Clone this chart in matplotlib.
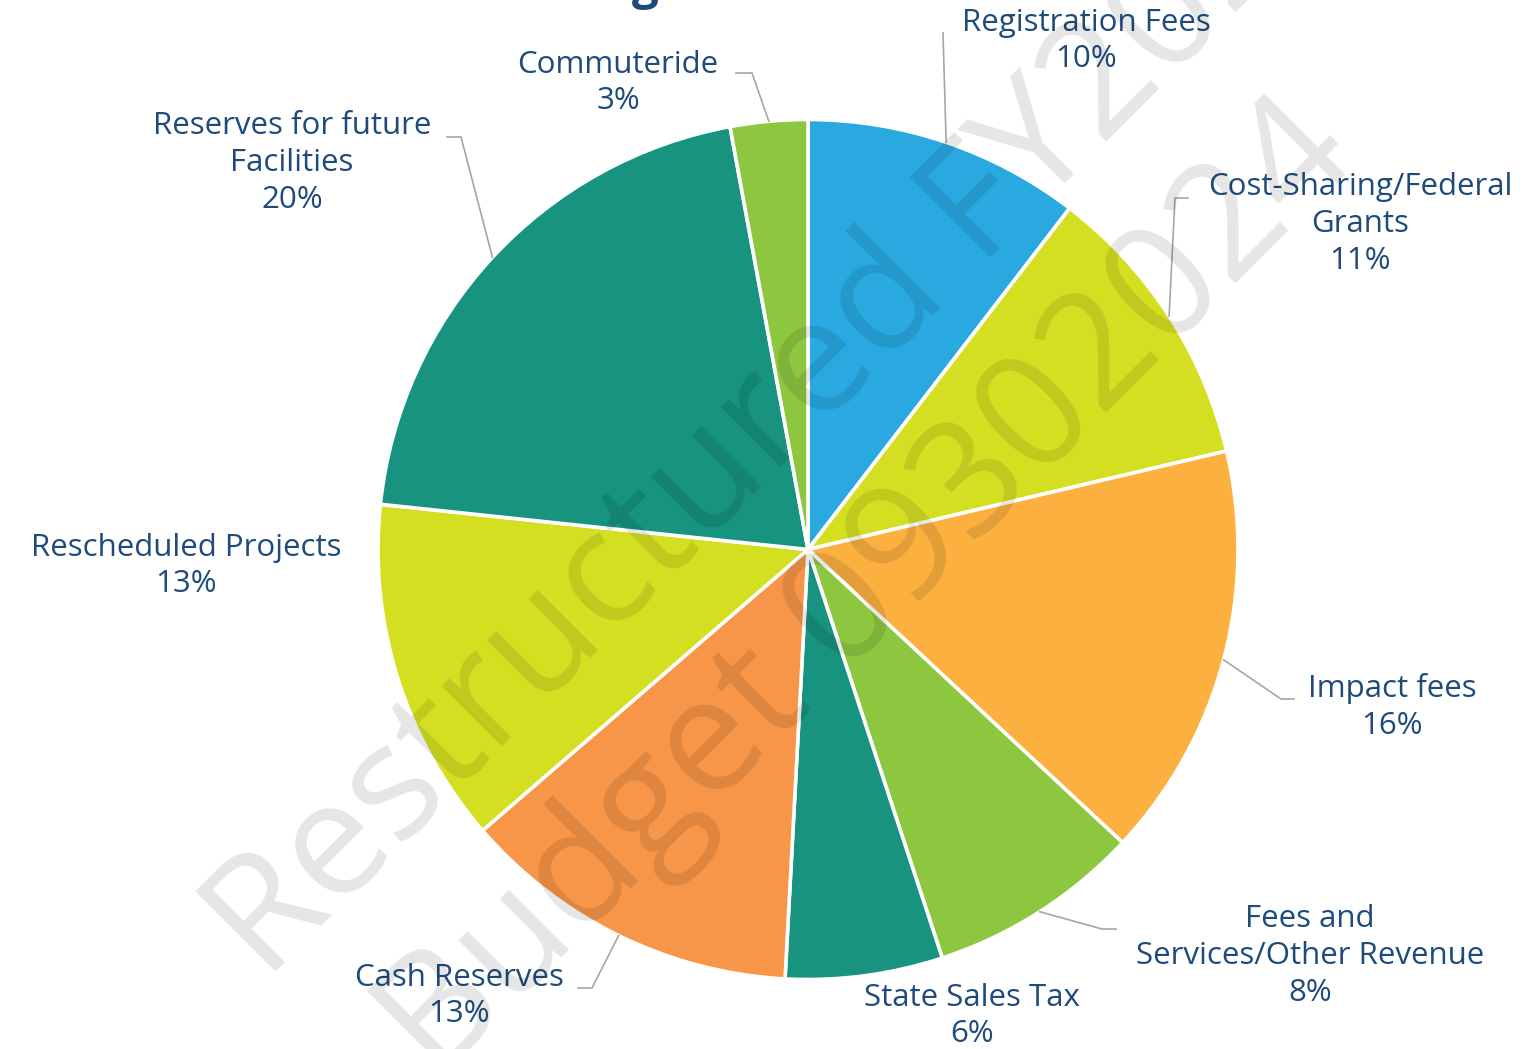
import matplotlib
matplotlib.use("Agg")
import matplotlib.pyplot as plt
import numpy as np

# slice data, clockwise from 12 o'clock
categories = [
    "Registration Fees",
    "Cost-Sharing/Federal\nGrants",
    "Impact fees",
    "Fees and\nServices/Other Revenue",
    "State Sales Tax",
    "Cash Reserves",
    "Rescheduled Projects",
    "Reserves for future\nFacilities",
    "Commuteride",
]
shares = [10.4, 10.9, 15.6, 8.0, 5.9, 12.8, 13.0, 20.4, 2.9]
colors = ["#29a9e0", "#d5df22", "#fbb040", "#8dc63f", "#17937f",
          "#f79548", "#d5df22", "#17937f", "#8dc63f"]

# label layout in pixels: (center x, center y of text block)
label_pos = [(1086, 41), (1360, 224), (1392, 707), (1310, 956), (972, 1016),
             (459, 996), (186, 566), (292, 163), (618, 83)]
# leader lines: (elbow, end) in pixels, None = no leader
leaders = [((943, 33), (943, 33)), ((1175, 198), (1188, 198)),
           ((1281, 699), (1294, 699)), ((1102, 929), (1116, 929)), None,
           ((592, 988), (578, 988)), None, ((461, 137), (447, 137)),
           ((752, 73), (736, 73))]

W, H = 1535, 1049
CX, CY, R = 808, 549.5, 430
TEXT = "#1f4b7b"


def px(x, y):
    return (x - CX) / R, (CY - y) / R


plt.rcParams["font.family"] = ["Open Sans", "DejaVu Sans"]
fig = plt.figure(figsize=(W / 100, H / 100), dpi=100)
ax = fig.add_axes([0, 0, 1, 1])

wedges, _ = ax.pie(shares, colors=colors, startangle=90, counterclock=False,
                   radius=1, wedgeprops=dict(edgecolor="white", linewidth=2.6))

for w, cat, val, pos, ld in zip(wedges, categories, shares, label_pos, leaders):
    tx, ty = px(*pos)
    ax.text(tx, ty, f"{cat}\n{round(val)}%", ha="center", va="center",
            fontsize=22.5, color=TEXT, linespacing=1.3, zorder=5)
    if ld is not None:
        mid = np.deg2rad((w.theta1 + w.theta2) / 2)
        ex, ey = px(*ld[0])
        fx, fy = px(*ld[1])
        ax.plot([np.cos(mid), ex, fx], [np.sin(mid), ey, fy],
                color="#a6a6a6", linewidth=1.2, zorder=4)

# watermark
ax.text(*px(266, 983), "Restructured FY2024", rotation=45, rotation_mode="anchor",
        ha="left", va="baseline", fontsize=115, color="black", alpha=0.1, zorder=6)
ax.text(*px(437, 1082), "Budget 09302024", rotation=45, rotation_mode="anchor",
        ha="left", va="baseline", fontsize=115, color="black", alpha=0.1, zorder=6)

# bottom of the cut-off title
ax.text(*px(645, -1), "g", ha="center", va="baseline", fontsize=34,
        fontweight="bold", color="#1b4a7a")

ax.set_xlim(-CX / R, (W - CX) / R)
ax.set_ylim((CY - H) / R, CY / R)
ax.set_aspect("auto")
ax.axis("off")

fig.savefig("out.png", dpi=100)
